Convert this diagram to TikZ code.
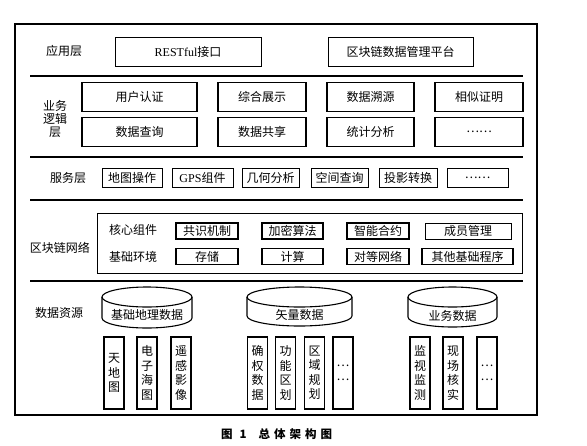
\documentclass[tikz,border=0pt]{standalone}
\usepackage{fontspec}
\newfontfamily\cjk{Noto Sans CJK SC}
\newfontfamily\lat{Liberation Serif}

\begin{document}
\begin{tikzpicture}[x=1pt,y=-1pt,
font=\cjk\fontsize{12}{14}\selectfont,
layer/.style={align=center, inner sep=0pt},
box/.style={draw, line width=0.9pt, inner sep=0pt, minimum height=29pt},
bizbox/.style={draw, line width=1.4pt, inner sep=0pt, minimum height=29pt},
svcbox/.style={draw, line width=1pt, inner sep=0pt, minimum height=19pt},
chainbox/.style={draw, line width=1.2pt, inner sep=0pt, minimum height=16pt},
vbox/.style={draw, line width=1.2pt, inner sep=0pt, minimum width=20pt, minimum height=72pt, align=center, font=\cjk\fontsize{12}{14.5}\selectfont},
db/.style={draw, line width=1.1pt},
sep/.style={line width=1.1pt}
]
\useasboundingbox (0,0) rectangle (587,445);
\node[draw, line width=1.5pt, minimum width=522pt, minimum height=391pt] (frame) at (276,219.5) {};

% application layer
\node[layer] (applab) at (64,51) {应用层};
\node[box, minimum width=146pt] (rest) at (188,51.5) {{\lat RESTful}接口};
\node[box, minimum width=145pt] (platform) at (400.5,51.5) {区块链数据管理平台};
\draw[sep] (30,76) -- (523,76);

% business logic layer
\node[layer, font=\cjk\fontsize{12}{13}\selectfont] (bizlab) at (55,119) {业务\\逻辑\\层};
\node[bizbox, minimum width=115pt] (auth) at (139.5,97) {用户认证};
\node[bizbox, minimum width=88pt] (show) at (262,97) {综合展示};
\node[bizbox, minimum width=87pt] (trace) at (370.5,97) {数据溯源};
\node[bizbox, minimum width=88pt] (proof) at (479,97) {相似证明};
\node[bizbox, minimum width=115pt] (query) at (139.5,132) {数据查询};
\node[bizbox, minimum width=88pt] (share) at (262,132) {数据共享};
\node[bizbox, minimum width=87pt] (stat) at (370.5,132) {统计分析};
\node[bizbox, minimum width=88pt] (bizmore) at (479,132) {……};
\draw[sep] (30,157) -- (523,157);

% service layer
\node[layer] (svclab) at (68,178) {服务层};
\node[svcbox, minimum width=60pt] (mapop) at (132,177.5) {地图操作};
\node[svcbox, minimum width=61pt] (gps) at (202.5,177.5) {{\lat GPS}组件};
\node[svcbox, minimum width=57pt] (geom) at (270.5,177.5) {几何分析};
\node[svcbox, minimum width=57pt] (spatial) at (339.5,177.5) {空间查询};
\node[svcbox, minimum width=58pt] (proj) at (408,177.5) {投影转换};
\node[svcbox, minimum width=61pt] (svcmore) at (477.5,177.5) {……};
\draw[sep] (30,200) -- (523,200);

% blockchain network
\node[layer] (chainlab) at (60,248) {区块链网络};
\node[draw, line width=1pt, minimum width=425pt, minimum height=60pt] (chainframe) at (309.5,243) {};
\node[layer] (corelab) at (133,230) {核心组件};
\node[layer] (baselab) at (133,257) {基础环境};
\node[chainbox, minimum width=62pt] (consensus) at (207,231) {共识机制};
\node[chainbox, minimum width=61pt] (crypto) at (292.5,231) {加密算法};
\node[chainbox, minimum width=62pt] (contract) at (378,231) {智能合约};
\node[chainbox, minimum width=86pt, line width=1pt] (member) at (468,231) {成员管理};
\node[chainbox, minimum width=62pt] (storage) at (207,256.5) {存储};
\node[chainbox, minimum width=61pt] (compute) at (292.5,256.5) {计算};
\node[chainbox, minimum width=62pt] (p2p) at (378,256.5) {对等网络};
\node[chainbox, minimum width=91pt] (otherbase) at (467.5,256.5) {其他基础程序};
\draw[sep] (30,281) -- (523,281);

% data resources
\node[layer] (datalab) at (59,313) {数据资源};
\foreach \cx/\hw/\bot in {147/45/328, 299.5/52.5/326, 452.5/44.5/327} {
  \draw[db] (\cx,297) ellipse [x radius=\hw, y radius=10];
  \draw[db] (\cx-\hw,297) -- (\cx-\hw,\bot-10) arc [start angle=180, end angle=0, x radius=\hw, y radius=10] -- (\cx+\hw,297);
}
\node[layer] (basegeolab) at (147,315) {基础地理数据};
\node[layer] (vectorlab) at (299.5,315) {矢量数据};
\node[layer] (bizdatalab) at (452.5,316) {业务数据};

\node[vbox] (tdt) at (114,373) {天\\地\\图};
\node[vbox] (chart) at (147,373) {电\\子\\海\\图};
\node[vbox] (rs) at (181,373) {遥\\感\\影\\像};
\node[vbox] (rights) at (257.5,373) {确\\权\\数\\据};
\node[vbox] (zoning) at (285.5,373) {功\\能\\区\\划};
\node[vbox] (plan) at (314.5,373) {区\\域\\规\\划};
\node[vbox] (vecmore) at (343,373) {…\\…};
\node[vbox] (monitor) at (420,373) {监\\视\\监\\测};
\node[vbox] (verify) at (453,373) {现\\场\\核\\实};
\node[vbox] (bizmore2) at (487,373) {…\\…};

\node[font=\cjk\bfseries\fontsize{11.5}{13}\selectfont, inner sep=0pt, anchor=west] (caption) at (221,434) {图\hspace{7pt}1\hspace{12pt}总\hspace{4pt}体\hspace{4pt}架\hspace{4pt}构\hspace{4pt}图};
\end{tikzpicture}
\end{document}
